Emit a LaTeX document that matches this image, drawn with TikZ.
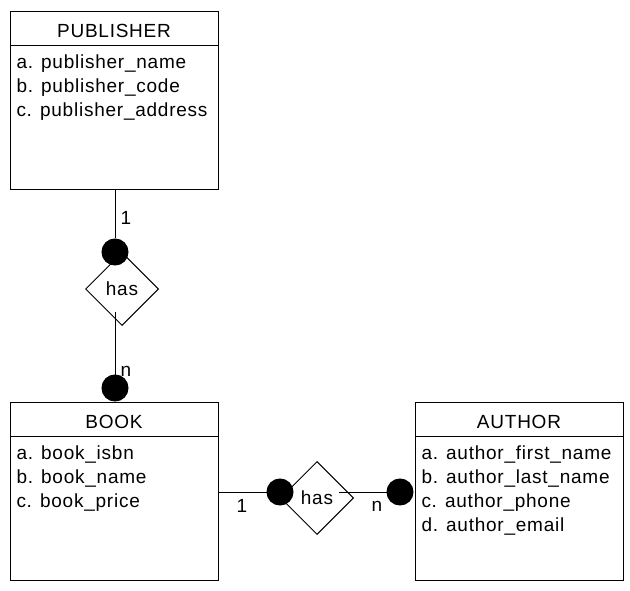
\documentclass[tikz,border=0pt]{standalone}
\usepackage{fontspec}
\setmainfont{Liberation Sans}[LetterSpace=4]
\usetikzlibrary{shapes.geometric}
\begin{document}
\begin{tikzpicture}[x=1pt,y=-1pt,line width=1pt,
  entity/.style={draw,rectangle,minimum width=208pt,minimum height=178pt,inner sep=0pt},
  title/.style={font=\fontsize{19}{22}\selectfont,inner sep=0pt,anchor=base},
  attr/.style={font=\fontsize{19}{22}\selectfont,anchor=base west,inner sep=0pt},
  dot/.style={circle,fill=black,draw=black,minimum size=26pt,inner sep=0pt},
  rel/.style={diamond,draw,fill=white,minimum width=73pt,minimum height=73pt,inner sep=0pt,font=\fontsize{19}{22}\selectfont},
  card/.style={font=\fontsize{19}{22}\selectfont,inner sep=0pt}]
\useasboundingbox (0,0) rectangle (630,591);
% entities
\node[entity] (pub) at (114,101) {};
\node[entity] (book) at (114,491) {};
\node[entity] (author) at (519,491) {};
\draw (10,46) -- (218,46);
\draw (10,436) -- (218,436);
\draw (415,436) -- (623,436);
\node[title] (pubt) at (114,38) {PUBLISHER};
\node[title] (bookt) at (114,428) {BOOK};
\node[title] (autht) at (519,428) {AUTHOR};
\node[attr] (pa1) at (16,69) {a. publisher\_name};
\node[attr] (pa2) at (16,93) {b. publisher\_code};
\node[attr] (pa3) at (16,117) {c. publisher\_address};
\node[attr] (ba1) at (16,459) {a. book\_isbn};
\node[attr] (ba2) at (16,483) {b. book\_name};
\node[attr] (ba3) at (16,507) {c. book\_price};
\node[attr] (aa1) at (421,459) {a. author\_first\_name};
\node[attr] (aa2) at (421,483) {b. author\_last\_name};
\node[attr] (aa3) at (421,507) {c. author\_phone};
\node[attr] (aa4) at (421,531) {d. author\_email};
% vertical relationship
\node[rel] (r1) at (122,289) {has};
\node[dot] (d1) at (115,252) {};
\node[dot] (d2) at (115,388) {};
\coordinate (c1) at (115,312);
\draw (pub.south -| d1) -- (d1);
\draw (c1) -- (d2);
\node[card] (k1) at (126,218) {1};
\node[card] (k2) at (126,371) {n};
% horizontal relationship
\node[rel] (r2) at (317,498) {has};
\node[dot] (d3) at (280,492) {};
\node[dot] (d4) at (400,492) {};
\coordinate (c2) at (339,492);
\draw (book.east |- d3) -- (d3);
\draw (c2) -- (d4);
\node[card] (k3) at (242,506) {1};
\node[card] (k4) at (377,506) {n};
\end{tikzpicture}
\end{document}
